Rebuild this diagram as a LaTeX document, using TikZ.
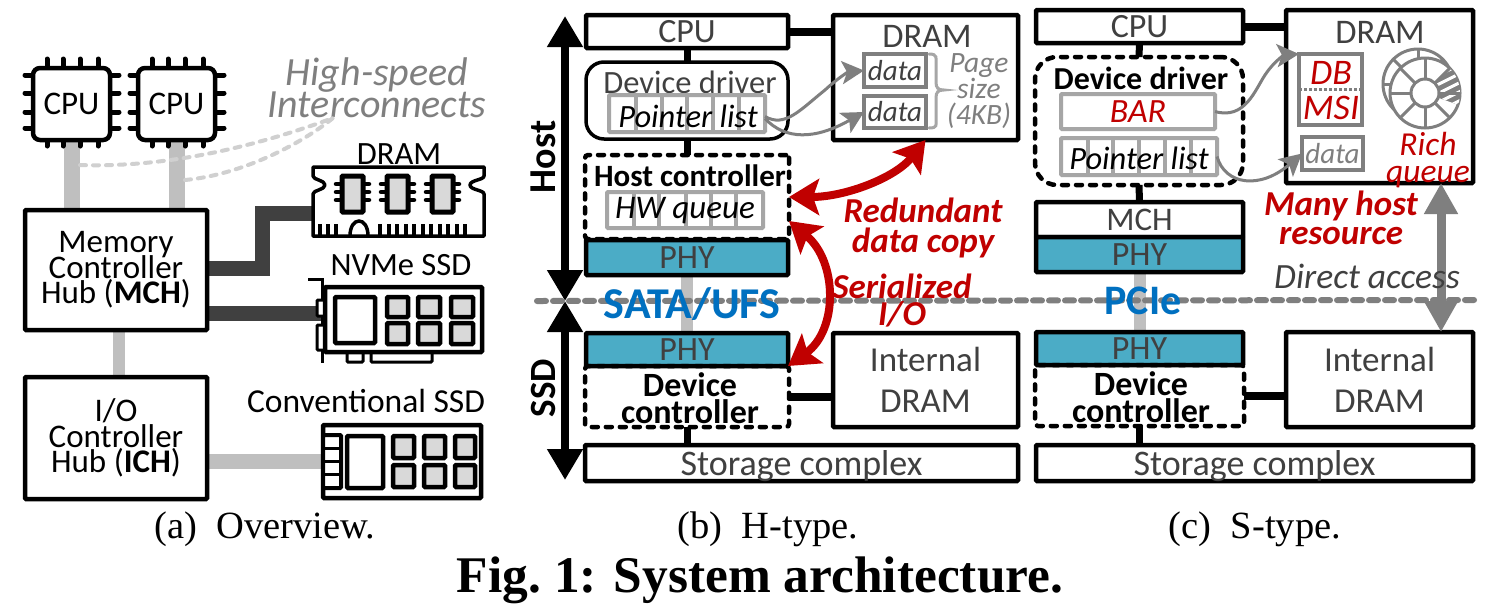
\documentclass[tikz,border=0pt]{standalone}
\usepackage{fontspec}
\setmainfont{Carlito}
\newfontfamily\capfont{Liberation Serif}
\usetikzlibrary{arrows.meta,calc,backgrounds}
\lineskiplimit=-100pt
\definecolor{txtg}{HTML}{404040}
\definecolor{midg}{HTML}{7F7F7F}
\definecolor{cellg}{HTML}{A6A6A6}
\definecolor{busg}{HTML}{BFBFBF}
\definecolor{dotg}{HTML}{D0D0D0}
\definecolor{chipg}{HTML}{D9D9D9}
\definecolor{phyc}{HTML}{4BACC6}
\definecolor{redc}{HTML}{C00000}
\definecolor{bluec}{HTML}{0070C0}
\tikzset{
  box/.style={draw=black,fill=white,line width=4.5pt,rounded corners=1pt,inner sep=0pt,outer sep=0pt,align=center,text=txtg,font=\fontsize{34}{38}\selectfont},
  plainbox/.style={box,text=black,font=\fontsize{33}{25.5}\selectfont},
  phybox/.style={box,fill=phyc},
  dashbox/.style={box,fill=none,line width=4.5pt,dash pattern=on 6pt off 8pt,line cap=round,rounded corners=3pt},
  cellbox/.style={draw=cellg,fill=white,line width=4pt,rounded corners=1pt,inner sep=0pt,outer sep=0pt,align=center},
  grayin/.style={draw=midg,fill=white,line width=4pt,inner sep=0pt,outer sep=0pt,align=center},
  lbl/.style={inner sep=0pt,outer sep=0pt,align=center},
  buslight/.style={draw=busg,line width=#1},
  busdark/.style={draw=txtg,line width=15pt},
  linkb/.style={draw=black,line width=#1},
  dotlink/.style={draw=dotg,line width=4pt,dash pattern=on 6pt off 7pt,line cap=round},
  sep/.style={draw=midg,line width=6pt,dash pattern=on 9pt off 7pt,line cap=round},
  thin arrow/.style={draw=midg,line width=3pt,-{Stealth[length=22pt,width=23pt,inset=5pt]}},
  red arrow/.style={draw=redc,line width=8pt,{Stealth[length=30pt,width=36pt,inset=6pt]}-{Stealth[length=30pt,width=36pt,inset=6pt]}},
  span arrow/.style={draw=black,line width=8pt,{Triangle[length=31pt,width=34pt]}-{Triangle[length=31pt,width=34pt]}},
  direct arrow/.style={draw=midg,line width=9pt,{Triangle[length=31pt,width=32pt]}-{Triangle[length=31pt,width=32pt]}},
  thick part/.style={draw=black,line width=4pt,rounded corners=1pt},
  memchip/.style={draw=black,fill=chipg,line width=4.5pt,rounded corners=1pt},
  emptychip/.style={draw=black,fill=white,line width=4.5pt,rounded corners=1pt},
  pin/.style={draw=black,line width=5pt,line cap=round},
  ringline/.style={draw=midg,line width=3pt},
}
\newcommand{\bx}[7]{%
  \pgfmathsetmacro{\bxw}{#4-#2}\pgfmathsetmacro{\bxh}{#5-#3}%
  \pgfmathsetmacro{\bxcx}{(#2+#4)/2}\pgfmathsetmacro{\bxcy}{(#3+#5)/2}%
  \node[#6,minimum width=\bxw pt,minimum height=\bxh pt] (#1) at (\bxcx,\bxcy) {#7};}
\newcommand{\cpuchip}[3]{% name, x0, text
  \pgfmathsetmacro{\cxa}{#2+14}\pgfmathsetmacro{\cxb}{#2+30}\pgfmathsetmacro{\cxc}{#2+47}\pgfmathsetmacro{\cxd}{#2+65}%
  \pgfmathsetmacro{\cxl}{#2-8}\pgfmathsetmacro{\cxr}{#2+77+9}\pgfmathsetmacro{\cxe}{#2+77}%
  \foreach \px in {\cxa,\cxb,\cxc,\cxd}{\draw[pin] (\px,59) -- (\px,146);}
  \foreach \py in {75,93,112,128}{\draw[pin] (\cxl,\py) -- (\cxr,\py);}
  \bx{#1}{#2}{68}{\cxe}{140}{box,text=black,rounded corners=7pt,font=\fontsize{33}{35}\selectfont}{\raisebox{-3pt}{#3}}}
\newcommand{\ramchip}[1]{% x0
  \pgfmathsetmacro{\rxe}{#1+21}\pgfmathsetmacro{\rxl}{#1-6}\pgfmathsetmacro{\rxr}{#1+27}%
  \foreach \py in {184,192,200}{\draw[draw=black,line width=4.5pt,line cap=round] (\rxl,\py) -- (\rxr,\py);}
  \draw[memchip,line width=5pt] (#1,176) rectangle (\rxe,212);}
\newcommand{\cells}[3]{% y0,y1,list of x
  \foreach \cx in {#3}{\draw[draw=cellg,line width=4pt] (\cx,#1) -- (\cx,#2);}}
\begin{document}
\begin{tikzpicture}[x=1pt,y=-1pt]
\useasboundingbox (0,0) rectangle (1499,603);
\begin{scope}[on background layer]
\fill[white] (0,0) rectangle (1499,603);
\end{scope}

%%% panel (a)
\cpuchip{cpuA}{33}{CPU}
\cpuchip{cpuAb}{138}{CPU}
\bx{mch}{25}{210}{207}{330}{plainbox}{Memory\\Controller\\Hub (\textbf{MCH})}
\bx{ich}{25}{377}{207}{499}{plainbox}{I/O\\Controller\\Hub (\textbf{ICH})}
\node[lbl,font=\fontsize{40}{32}\selectfont\itshape,text=midg] (hs) at (377,88) {High-speed\\Interconnects};
\coordinate (hsp) at (333,118);
\draw[dotlink] (80,165) .. controls (170,168) and (260,145) .. (hsp);
\draw[dotlink] (185,180) .. controls (240,175) and (300,145) .. (hsp);

% DRAM module
\node[lbl,font=\fontsize{32.5}{30}\selectfont,text=black] (dramT) at (399,154) {DRAM};
\coordinate (dimm) at (313,205);
\draw[draw=black,fill=white,line width=3.5pt,line join=round]
  (313,167) -- (484,167) -- (484,176) .. controls (484,180) and (470,180) .. (470,185) .. controls (470,190) and (484,190) .. (484,194) -- (484,236) -- (313,236)
  -- (313,194) .. controls (313,190) and (325,190) .. (325,185) .. controls (325,180) and (313,180) .. (313,176) -- cycle;
\foreach \tx in {320,328,336,380,388.5,397,405.5,414,422.5,431,439.5,448,456.5,465}{\draw[line width=4pt] (\tx,224) -- (\tx,236);}
\draw[line width=3.5pt] (350,236) .. controls (350,216) and (368,216) .. (368,236);
\ramchip{342}\ramchip{387}\ramchip{432}

% NVMe card
\node[lbl,font=\fontsize{32.5}{30}\selectfont,text=black] (nvT) at (401,265) {NVMe SSD};
\draw[line width=3pt] (308,279) -- (322,279) -- (322,363);
\draw[thick part,line width=3pt,fill=white] (317,300) rectangle (325,316);
\draw[thick part,line width=3pt,fill=white] (317,325) rectangle (325,350);
\draw[thick part,line width=3pt,fill=white] (347,352) rectangle (363,362);
\draw[thick part,line width=3pt,fill=white] (371,352) rectangle (432,362);
\bx{nvme}{325}{287}{482}{352}{box}{}
\draw[emptychip] (335,297) rectangle (375,343);
\foreach \xa/\xb in {387/408,418/440,451/473}{
  \draw[memchip] (\xa,297) rectangle (\xb,317);
  \draw[memchip] (\xa,323) rectangle (\xb,344);}

% Conventional SSD
\node[lbl,font=\fontsize{33.5}{30}\selectfont,text=black] (cvT) at (366,401) {Conventional SSD};
\bx{conv}{323}{425}{481}{498}{box}{}
\draw[thick part,fill=white] (323,435) rectangle (341,488);
\foreach \py in {448,461,474}{\draw[line width=3pt] (323,\py) -- (341,\py);}
\draw[emptychip] (347,436) rectangle (383,488);
\foreach \xa/\xb in {393/414,424/445,455/475}{
  \draw[memchip] (\xa,436) rectangle (\xb,458);
  \draw[memchip] (\xa,465) rectangle (\xb,487);}

\begin{scope}[on background layer]
  \draw[buslight=16pt] (cpuA.south) -- (cpuA.south |- mch.north);
  \draw[buslight=16pt] (cpuAb.south) -- (cpuAb.south |- mch.north);
  \draw[buslight=12pt] ($(mch.south)+(3,0)$) -- ($(ich.north)+(3,0)$);
  \draw[buslight=15pt] (ich.east |- conv.west) -- (conv.west);
  \draw[busdark] (mch.east |- 0,268) -- (262,268) -- (262,213) -- (dimm |- 0,213);
  \draw[busdark] (mch.east |- 0,313) -- (322,313);
\end{scope}

%%% panel (b)
\coordinate (hostTop) at (565,16);
\coordinate (midL) at (565,301);
\coordinate (ssdEnd) at (565,480);
\draw[span arrow] (hostTop) -- (midL);
\draw[span arrow] (midL) -- (ssdEnd);
\node[lbl,rotate=90,font=\fontsize{38}{38}\selectfont\bfseries,text=black] (hostL) at (543,157) {Host};
\node[lbl,rotate=90,font=\fontsize{37}{37}\selectfont\bfseries,text=black] (ssdL) at (543,388) {SSD};

\bx{cpuB}{586}{15}{788}{48}{box}{\raisebox{-2pt}{CPU}}
\bx{dramB}{833}{15}{1018}{140}{box}{}
\node[lbl,font=\fontsize{34.5}{34}\selectfont,text=txtg] (dramBt) at (927,36) {DRAM};
\bx{drvB}{586}{62}{788}{139}{box,line width=3.5pt,rounded corners=18pt}{}
\node[lbl,font=\fontsize{32.5}{32}\selectfont,text=txtg] (drvBt) at (690,82) {Device driver};
\bx{ptrB}{609}{95}{765}{132}{cellbox}{}
\cells{95}{132}{636,662,687,713,739}
\node[lbl,font=\fontsize{32.5}{32}\selectfont\itshape,text=black] (ptrBt) at (688,116) {Pointer list};
\bx{hostC}{585}{155}{789}{239}{dashbox}{}
\node[lbl,font=\fontsize{31}{31}\selectfont\bfseries,text=black] (hostCt) at (690,176) {Host controller};
\bx{hwq}{607}{192}{763}{228}{cellbox}{}
\cells{192}{228}{634,659,686,711,736}
\node[lbl,font=\fontsize{33}{33}\selectfont\itshape,text=black] (hwqt) at (685,211) {HW queue};
\bx{phyB}{586}{240}{788}{275}{phybox}{PHY}
\bx{dataB}{864}{54}{926}{87}{grayin,text=txtg,font=\fontsize{29}{29}\selectfont\itshape}{data}
\bx{dataBb}{864}{96}{926}{128}{grayin,text=txtg,font=\fontsize{29}{29}\selectfont\itshape}{data}
\draw[draw=cellg,line width=3pt,line cap=round] (929,54) .. controls (938,54) and (936,58) .. (936,65) -- (936,82) .. controls (936,88) and (938,90) .. (944,90) .. controls (938,90) and (936,92) .. (936,98) -- (936,118) .. controls (936,125) and (938,128) .. (929,128);
\node[lbl,font=\fontsize{29.5}{26}\selectfont\itshape,text=midg] (pgT) at (979,91) {Page\\size\\(4KB)};
\draw[thin arrow] ($(ptrB.east)+(0,3)$) .. controls (785,128) and (800,110) .. (825,90) .. controls (838,78) and (848,72) .. (dataB.west);
\draw[thin arrow] ($(ptrB.east)+(0,5)$) .. controls (785,140) and (815,140) .. (dataBb.west);

\bx{phyBb}{586}{333}{788}{366}{phybox}{\raisebox{-2pt}{PHY}}
\bx{devB}{585}{366}{789}{427}{dashbox}{}
\node[lbl,font=\fontsize{34}{27}\selectfont\bfseries,text=black] (devBt) at (690,398) {Device\\controller};
\bx{intB}{833}{333}{1018}{427}{box,font=\fontsize{35}{41}\selectfont}{Internal\\DRAM}
\bx{stoB}{585}{445}{1018}{481}{box,text depth=0pt,font=\fontsize{36}{36}\selectfont}{Storage complex}

%%% panel (c)
\bx{cpuC}{1036}{10}{1243}{43}{box}{\raisebox{-3pt}{CPU}}
\bx{dramC}{1286}{10}{1473}{183}{box}{}
\node[lbl,font=\fontsize{34.5}{34}\selectfont,text=txtg] (dramCt) at (1380,32) {DRAM};
\bx{drvC}{1035}{57}{1243}{185}{dashbox,rounded corners=22pt}{}
\node[lbl,font=\fontsize{32}{32}\selectfont\bfseries,text=black] (drvCt) at (1141,78) {Device driver};
\bx{barC}{1061}{94}{1215}{129}{cellbox,text=redc,font=\fontsize{34}{34}\selectfont\itshape}{BAR}
\bx{ptrC}{1061}{138}{1217}{175}{cellbox}{}
\cells{138}{175}{1088,1113,1139,1165,1191}
\node[lbl,font=\fontsize{32.5}{32}\selectfont\itshape,text=black] (ptrCt) at (1139,158) {Pointer list};
\bx{mchC}{1036}{202}{1243}{237}{box,font=\fontsize{33}{33}\selectfont}{MCH}
\bx{phyC}{1036}{237}{1243}{272}{phybox}{PHY}
\bx{dbC}{1299}{54}{1362}{125}{grayin}{}
\draw[draw=midg,line width=3pt,dash pattern=on 3pt off 2pt] (dbC.west) -- (dbC.east);
\node[lbl,font=\fontsize{36}{36}\selectfont\itshape,text=redc] (dbt) at (1331,73) {DB};
\node[lbl,font=\fontsize{36}{36}\selectfont\itshape,text=redc] (msit) at (1331,108) {MSI};
\bx{dataC}{1302}{137}{1363}{170}{grayin,text=midg,font=\fontsize{29}{29}\selectfont\itshape}{data}
% rich queue rings: back ring up-left, front ring with a hatched sector
\coordinate (ringb) at (1418,84);
\coordinate (ring) at (1425,93);
\draw[ringline] (ringb) circle (35);
\foreach \ang in {0,45,...,315}{\draw[ringline] ($(ringb)+(\ang:14)$) -- ($(ringb)+(\ang:35)$);}
\draw[ringline,fill=white] (ring) circle (35);
\begin{scope}
  \clip (ring) circle (35);
  \clip (ring) -- ($(ring)+(45,-45)$) -- ($(ring)+(45,16)$) -- cycle;
  \fill[midg] (1420,50) rectangle (1465,120);
  \foreach \yy in {-22,-13,-4,5,14,23}{\draw[white,line width=3pt] ($(ring)+(10,\yy+6)$) -- ($(ring)+(40,\yy-9)$);}
\end{scope}
\foreach \ang in {0,45,...,315}{\draw[ringline] ($(ring)+(\ang:14)$) -- ($(ring)+(\ang:35)$);}
\draw[ringline,fill=white] (ring) circle (14);
\draw[thin arrow] (barC.east) .. controls (1245,120) and (1255,90) .. (1265,75) .. controls (1275,60) and (1285,55) .. (dbC.north west);
\draw[thin arrow] ($(ptrC.east)$) .. controls (1225,185) and (1260,190) .. (dataC.west);
\node[lbl,font=\fontsize{33.5}{27}\selectfont\itshape,text=redc] (richt) at (1428,160) {Rich\\queue};

\bx{phyCb}{1036}{332}{1243}{365}{phybox}{\raisebox{-2pt}{PHY}}
\bx{devC}{1035}{365}{1244}{426}{dashbox}{}
\node[lbl,font=\fontsize{34}{27}\selectfont\bfseries,text=black] (devCt) at (1141,397) {Device\\controller};
\bx{intC}{1286}{332}{1473}{427}{box,font=\fontsize{35}{41}\selectfont}{Internal\\DRAM}
\bx{stoC}{1036}{445}{1473}{481}{box,text depth=0pt,font=\fontsize{36}{36}\selectfont}{Storage complex}

\begin{scope}[on background layer]
  \draw[linkb=8pt] (cpuB.east) -- (cpuB.east -| dramB.west);
  \draw[linkb=7pt] (cpuB.south) -- (drvB.north);
  \draw[linkb=7pt] (drvB.south) -- (hostC.north);
  \draw[buslight=12pt] (phyB.south) -- (phyBb.north);
  \draw[linkb=8pt] ($(devB.east)+(0,0)$) -- (devB.east -| intB.west);
  \draw[linkb=7pt] (devB.south) -- (devB.south |- stoB.north);
  \draw[linkb=8pt] (cpuC.east) -- (cpuC.east -| dramC.west);
  \draw[linkb=7pt] (cpuC.south) -- (drvC.north);
  \draw[linkb=7pt] (drvC.south) -- (mchC.north);
  \draw[buslight=12pt] (phyC.south) -- (phyCb.north);
  \draw[linkb=8pt] (devC.east) -- (devC.east -| intC.west);
  \draw[linkb=7pt] (devC.south) -- (devC.south |- stoC.north);
\end{scope}

% separator and bus labels
\coordinate (sepL) at (537,301);
\coordinate (sepR) at (1476,300);
\draw[sep] (sepL) -- (sepR);
\node[lbl,font=\fontsize{44}{44}\selectfont\bfseries,text=bluec] (sata) at (692,304) {SATA/UFS};
\node[lbl,font=\fontsize{42}{42}\selectfont\bfseries,text=bluec] (pcie) at (1143,301) {PCIe};

% red arrows
\draw[red arrow] (hostC.east) .. controls (845,197) and (895,178) .. (dramB.south);
\draw[red arrow] ($(hostC.east)+(0,24)$) .. controls (838,262) and (838,330) .. (phyBb.south east);
\node[lbl,font=\fontsize{35}{30}\selectfont\bfseries\itshape,text=redc] (redt) at (923,228) {Redundant\\data copy};
\node[lbl,font=\fontsize{35}{27}\selectfont\bfseries\itshape,text=redc] (sert) at (902,301) {Serialized\\I/O};
\node[lbl,font=\fontsize{35}{29}\selectfont\bfseries\itshape,text=redc] (mant) at (1341,218) {Many host\\resource};

% direct access
\coordinate (dax) at (1441,300);
\draw[direct arrow] (dax |- dramC.south) -- (dax |- intC.north);
\node[lbl,font=\fontsize{35.5}{35}\selectfont\itshape,text=txtg] (dat) at (1367,276) {Direct access};

% captions
\node[lbl,font=\capfont\fontsize{38.5}{38}\selectfont,text=black] (capa) at (265,529) {(a)\ \ Overview.};
\node[lbl,font=\capfont\fontsize{38.5}{38}\selectfont,text=black] (capb) at (768,529) {(b)\ \ H-type.};
\node[lbl,font=\capfont\fontsize{38.5}{38}\selectfont,text=black] (capc) at (1255,529) {(c)\ \ S-type.};
\node[lbl,font=\capfont\fontsize{51.4}{51}\selectfont\bfseries,text=black] (figt) at (760,580) {Fig.\ 1: System architecture.};
\end{tikzpicture}
\end{document}
